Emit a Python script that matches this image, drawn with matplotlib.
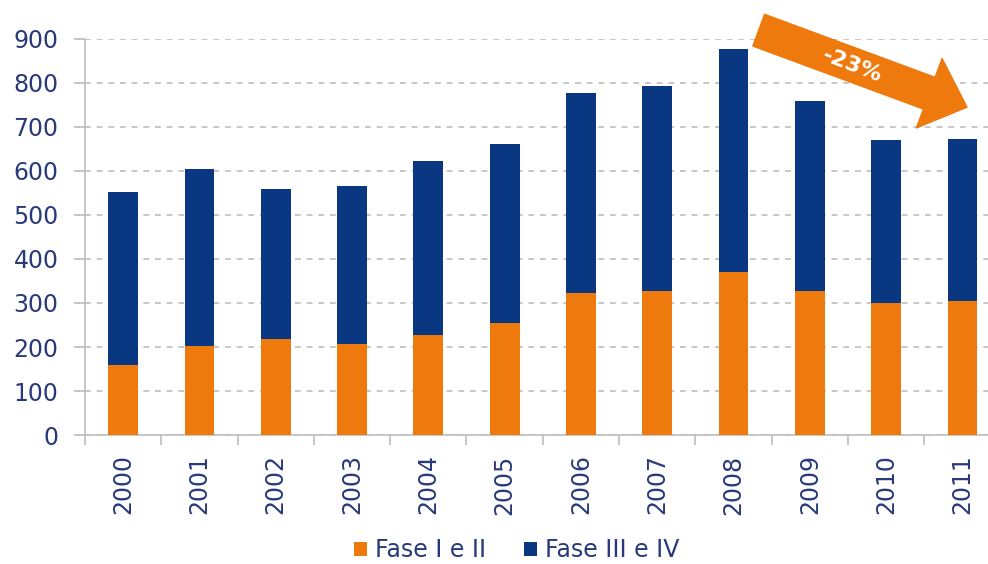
import matplotlib

matplotlib.use("Agg")
import matplotlib.pyplot as plt
import numpy as np

plt.rcParams["font.family"] = "DejaVu Sans"

years = ["2000", "2001", "2002", "2003", "2004", "2005",
         "2006", "2007", "2008", "2009", "2010", "2011"]
fase_1_2 = [158, 203, 218, 207, 227, 255, 323, 327, 370, 328, 301, 304]
fase_3_4 = [395, 401, 340, 359, 396, 406, 455, 466, 507, 430, 369, 369]
change_label = "-23%"

ORANGE = "#EE7A0E"
NAVY = "#0A3781"
TEXT = "#283A7A"
GRID = "#BDBDBD"

fig = plt.figure(figsize=(9.88, 5.64), dpi=100)
ax = fig.add_axes([0.086, 0.2287, 0.914, 0.7022])

x = np.arange(len(years))
w = 0.39
ax.bar(x, fase_1_2, width=w, color=ORANGE, label="Fase I e II", zorder=3)
ax.bar(x, fase_3_4, width=w, bottom=fase_1_2, color=NAVY,
       label="Fase III e IV", zorder=3)

ax.set_yticks(np.arange(0, 901, 100))
ax.yaxis.grid(True, color=GRID, linestyle=(0, (3.5, 3.5)), linewidth=1.2, zorder=0)
ax.set_axisbelow(True)

ax.set_xticks(x)
ax.set_xticklabels(years, rotation=90)
ax.set_xticks(np.arange(-0.5, 12, 1), minor=True)
# limits after ticks, so the last minor tick does not widen the view
ax.set_xlim(-0.5, 11.335)
ax.set_ylim(0, 900)
ax.tick_params(axis="x", which="major", length=0, pad=14, labelsize=17, labelcolor=TEXT)
ax.tick_params(axis="x", which="minor", length=7, color=GRID, width=1.2)
ax.tick_params(axis="y", length=8, color=GRID, width=1.2, pad=11,
               labelsize=17, labelcolor=TEXT)

for s in ["top", "right"]:
    ax.spines[s].set_visible(False)
for s in ["left", "bottom"]:
    ax.spines[s].set_color(GRID)
    ax.spines[s].set_linewidth(1.2)

# trend arrow 2008 -> 2011
ax.annotate("", xy=(11.06, 745), xytext=(8.33, 920),
            arrowprops=dict(arrowstyle="simple,head_length=0.5,head_width=0.92,tail_width=0.42",
                            color=ORANGE, shrinkA=0, shrinkB=0, mutation_scale=58),
            annotation_clip=False, zorder=5)
ax.text(9.56, 840, change_label, color="white", fontsize=16, fontweight="bold",
        rotation=-21, ha="center", va="center", zorder=6, clip_on=False)

fig.legend(loc="center", bbox_to_anchor=(0.523, 0.024), ncol=2, frameon=False,
           fontsize=17, labelcolor=TEXT, handlelength=0.55, handleheight=0.55,
           handletextpad=0.35, columnspacing=1.6)

fig.savefig("out.png", dpi=100)
